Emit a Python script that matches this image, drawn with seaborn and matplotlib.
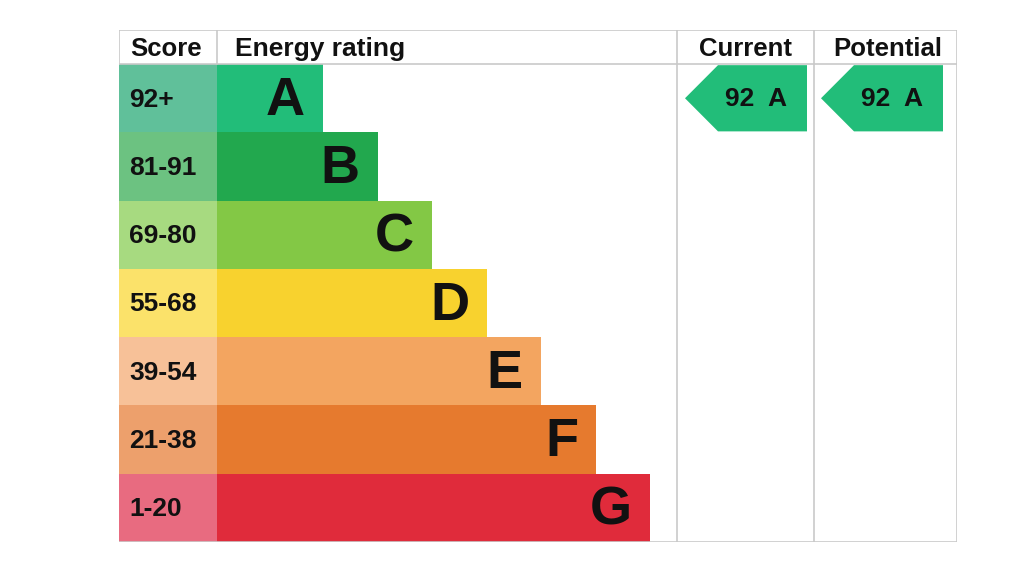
import matplotlib
matplotlib.use("Agg")
import matplotlib.pyplot as plt
import seaborn as sns
import pandas as pd
from matplotlib.patches import Polygon

sns.set_theme(style="white")
plt.rcParams['font.family'] = ['Liberation Sans', 'DejaVu Sans']

# ---- data ----
bands = ["A", "B", "C", "D", "E", "F", "G"]
scores = ["92+", "81-91", "69-80", "55-68", "39-54", "21-38", "1-20"]
bar_lengths = [106, 161, 215, 270, 324, 379, 433]
band_colors = ["#22bd79", "#22a84e", "#83c845", "#f8d22e", "#f3a560", "#e67a2e", "#e02b3b"]
score_colors = ["#60c09a", "#6cc281", "#a7da80", "#fbe26a", "#f7c198", "#eda06c", "#e86b80"]
headers = ["Score", "Energy rating", "Current", "Potential"]
current_value = 92
current_band = "A"
potential_value = 92
potential_band = "A"

df = pd.DataFrame({"band": bands, "length": bar_lengths, "score": scores})

fig = plt.figure(figsize=(10.24, 5.75), dpi=100)
W, H = 1024, 575
left_px, right_px, top_px, bot_px = 119, 957, 30, 542
ax = fig.add_axes([left_px / W, (H - bot_px) / H, (right_px - left_px) / W, (bot_px - top_px) / H])

score_w = 98
col_cur = 460
col_pot = 597
col_end = 740

# score cells
ax.barh(range(len(bands)), [score_w] * len(bands), left=-score_w, height=1.0,
        color=score_colors, edgecolor="none")
# rating bars
sns.barplot(data=df, x="length", y="band", hue="band", palette=band_colors,
            order=bands, width=1.0, orient="h", legend=False, ax=ax,
            edgecolor="none", linewidth=0, saturation=1)

ax.set_xlim(-score_w, col_end)
ax.set_ylim(6.5, -1.0)
ax.set_xlabel("")
ax.set_ylabel("")
ax.set_xticks([])
ax.set_yticks([])
for s in ax.spines.values():
    s.set_visible(False)

line_kw = dict(color="#c9c9c9", lw=1.2, zorder=5)
# horizontal lines
ax.plot([-score_w, col_end], [-1.0, -1.0], **line_kw)
ax.plot([-score_w, col_end], [-0.5, -0.5], **line_kw)
ax.plot([-score_w, col_end], [6.5, 6.5], **line_kw)
# vertical lines
ax.plot([-score_w, -score_w], [-1.0, -0.5], **line_kw)
ax.plot([0, 0], [-1.0, -0.5], **line_kw)
for xv in (col_cur, col_pot, col_end):
    ax.plot([xv, xv], [-1.0, 6.5], **line_kw)

# header text
hy = -0.72
hkw = dict(va="center", fontsize=18.5, fontweight="bold", color="#111111")
ax.text(-87, hy, headers[0], ha="left", **hkw)
ax.text(18, hy, headers[1], ha="left", **{**hkw, "fontsize": 19})
ax.text((col_cur + col_pot) / 2, hy, headers[2], ha="center", **hkw)
ax.text((col_pot + col_end) / 2 + 2, hy, headers[3], ha="center", **hkw)

# score labels and band letters
for i, (b, s, L) in enumerate(zip(bands, scores, bar_lengths)):
    ax.text(-88, i + 0.02, s, ha="left", va="center", fontsize=19, fontweight="bold", color="#111111")
    ax.text(L - 18, i + 0.04, b, ha="right", va="center", fontsize=39, fontweight="bold", color="#111111")

# arrows
def arrow(x0, x1, row, color, label):
    top, bot = row - 0.485, row + 0.485
    notch = 33
    poly = Polygon([(x0, row), (x0 + notch, top), (x1, top), (x1, bot), (x0 + notch, bot)],
                   closed=True, facecolor=color, edgecolor="none", zorder=4)
    ax.add_patch(poly)
    ax.text((x0 + x1) / 2 + 10, row + 0.01, label, ha="center", va="center",
            fontsize=19, fontweight="bold", color="#111111", zorder=6)

cur_row = bands.index(current_band)
pot_row = bands.index(potential_band)
arrow(468, 590, cur_row, band_colors[cur_row], f"{current_value}  {current_band}")
arrow(604, 726, pot_row, band_colors[pot_row], f"{potential_value}  {potential_band}")

fig.savefig("out.png", dpi=100, facecolor="white")
